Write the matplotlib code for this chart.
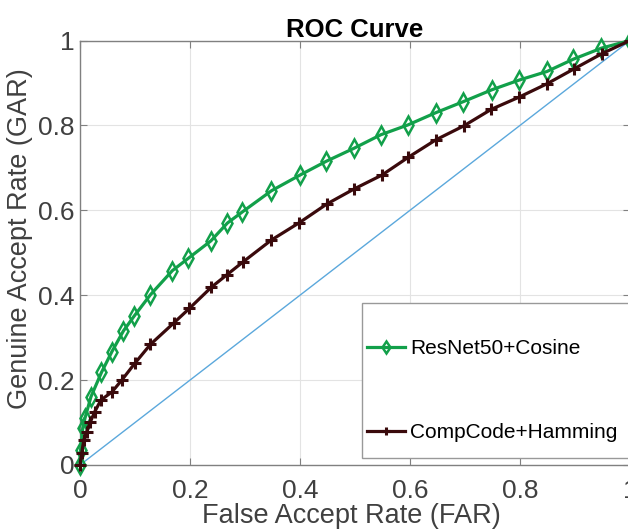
import matplotlib
matplotlib.use("Agg")
import matplotlib.pyplot as plt
from matplotlib.patches import Rectangle

plt.rcParams['font.family'] = ['Liberation Sans', 'DejaVu Sans']

# ResNet50 + Cosine
far_resnet = [0.0, 0.001, 0.005, 0.009, 0.02, 0.039, 0.058, 0.079, 0.098, 0.128,
              0.168, 0.197, 0.238, 0.268, 0.295, 0.348, 0.40, 0.447, 0.498,
              0.547, 0.596, 0.647, 0.697, 0.749, 0.799, 0.849, 0.897, 0.948, 1.0]
gar_resnet = [0.0, 0.035, 0.087, 0.11, 0.161, 0.218, 0.267, 0.316, 0.350, 0.401,
              0.458, 0.487, 0.528, 0.570, 0.596, 0.646, 0.683, 0.715, 0.746,
              0.778, 0.801, 0.830, 0.856, 0.884, 0.907, 0.927, 0.956, 0.982, 1.0]

# CompCode + Hamming
far_comp = [0.0, 0.003, 0.007, 0.012, 0.019, 0.027, 0.038, 0.058, 0.076, 0.10,
            0.128, 0.170, 0.199, 0.239, 0.267, 0.297, 0.348, 0.399, 0.449,
            0.498, 0.549, 0.597, 0.647, 0.698, 0.748, 0.799, 0.849, 0.898,
            0.949, 1.0]
gar_comp = [0.0, 0.028, 0.059, 0.078, 0.102, 0.126, 0.153, 0.172, 0.200, 0.240,
            0.284, 0.334, 0.369, 0.419, 0.448, 0.479, 0.530, 0.571, 0.615,
            0.650, 0.683, 0.725, 0.766, 0.799, 0.838, 0.867, 0.898, 0.933,
            0.969, 1.0]

chance = [0.0, 1.0]
ticks = [0, 0.2, 0.4, 0.6, 0.8, 1]
tick_labels = ['0', '0.2', '0.4', '0.6', '0.8', '1']

W, H = 628, 530
fig = plt.figure(figsize=(W / 100, H / 100), dpi=100)
ax = fig.add_axes([80 / W, (H - 465) / H, 550 / W, 424.5 / H])

green = '#12A04A'
dark = '#3A0A0C'

ax.plot(chance, chance, color='#5BA8DC', lw=1.0, zorder=2)
l1, = ax.plot(far_resnet, gar_resnet, color=green, lw=2.3, marker='d',
              markersize=9, markerfacecolor='none', markeredgecolor=green,
              markeredgewidth=1.8, label='ResNet50+Cosine', zorder=3, clip_on=False)
l2, = ax.plot(far_comp, gar_comp, color=dark, lw=2.3, marker='+',
              markersize=8, markeredgewidth=2.2, label='CompCode+Hamming',
              zorder=4, clip_on=False)

ax.set_xlim(0, 1)
ax.set_ylim(0, 1)
ax.set_xticks(ticks)
ax.set_xticklabels(tick_labels)
ax.set_yticks(ticks)
ax.set_yticklabels(tick_labels)
ax.grid(True, color='#E3E3E3', lw=0.8)
ax.set_axisbelow(True)
for s in ax.spines.values():
    s.set_color('#808080')
    s.set_linewidth(1.0)
ax.tick_params(axis='both', direction='in', length=5, color='#808080',
               labelsize=19, labelcolor='#404040', top=True, right=True)
ax.tick_params(axis='x', pad=10)
ax.tick_params(axis='y', pad=4)

ax.set_xlabel('False Accept Rate (FAR)', fontsize=19.5, color='#404040')
ax.set_ylabel('Genuine Accept Rate (GAR)', fontsize=19.5, color='#404040')
ax.xaxis.set_label_coords((351 - 80) / 550, (465 - 503) / 424.5)
ax.yaxis.set_label_coords((33 - 80) / 550, (465 - 239) / 424.5)
ax.set_title('ROC Curve', fontsize=18.5, fontweight='bold', pad=2.5)

# legend box
rect = Rectangle((362 / W, (H - 458) / H), 270 / W, 155 / H, transform=fig.transFigure,
                 facecolor='white', edgecolor='#999999', lw=1.0, zorder=5)
fig.patches.append(rect)
leg = fig.legend(handles=[l1, l2], loc='upper left',
                 bbox_to_anchor=(357 / W, (H - 329) / H), frameon=False,
                 fontsize=15, handlelength=1.8, handletextpad=0.25,
                 labelspacing=3.1, borderpad=0, markerscale=0.7)
leg.set_zorder(6)

fig.savefig('out.png', dpi=100)
